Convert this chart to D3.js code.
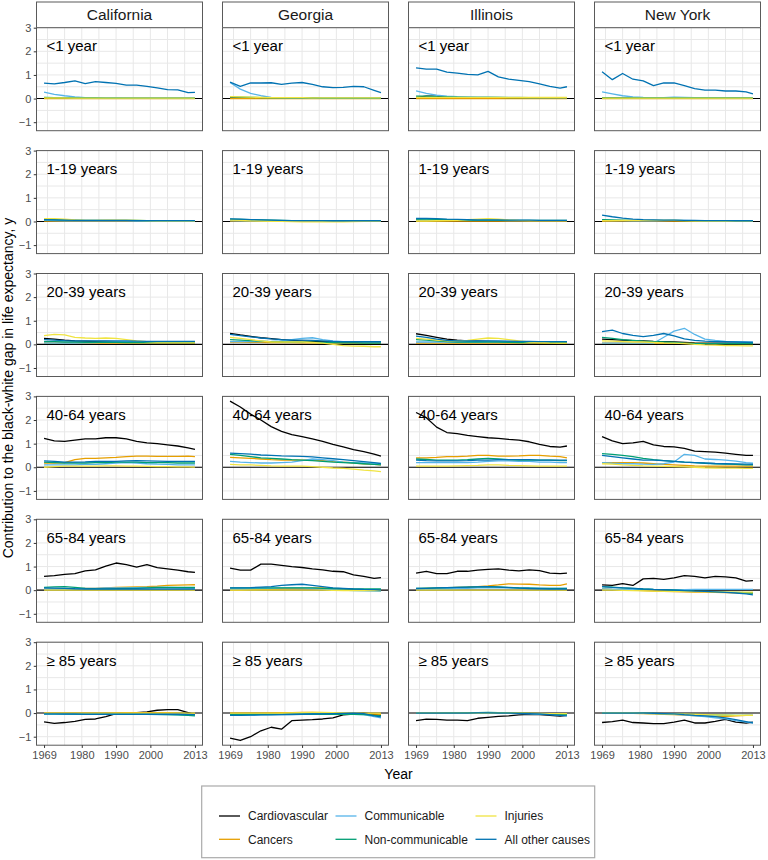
<!DOCTYPE html>
<html><head><meta charset="utf-8">
<script src="https://cdn.jsdelivr.net/npm/d3@7"></script>
<style>body{margin:0;background:#fff;} svg{display:block;font-family:"Liberation Sans",Arial,Helvetica,sans-serif;}</style>
</head><body><svg id="c" width="768" height="860"></svg>
<script>
const YEARS = [1969,1972,1975,1978,1981,1984,1987,1990,1993,1996,1999,2002,2005,2008,2011,2013];
const STATES = ["California","Georgia","Illinois","New York"];
const AGES = ["<1 year","1-19 years","20-39 years","40-64 years","65-84 years","\u2265 85 years"];
const CAUSES = ["Cardiovascular","Cancers","Communicable","Non-communicable","Injuries","All other causes"];
const COLORS = ["#000000","#E69F00","#56B4E9","#009E73","#F0E442","#0072B2"];
const X_TICKS = [1969,1980,1990,2000,2013];
const Y_TICKS = [-1,0,1,2,3];

// Each panel: arrays in CAUSES order (Cardiovascular, Cancers, Communicable, Non-communicable, Injuries, All other causes)
// ---- California ----
const CA_1 = [
 [.02,.02,.01,.01,.01,.01,.01,.01,.01,.01,.01,.01,.01,.01,.01,.01],
 [0,0,0,0,0,0,0,0,0,0,0,0,0,0,0,0],
 [.27,.18,.12,.07,.04,.03,.03,.04,.03,.02,.02,.02,.02,.02,.02,.02],
 [.05,.04,.04,.03,.03,.03,.02,.02,.02,.02,.02,.02,.02,.02,.02,.02],
 [.03,.03,.03,.02,.02,.02,.02,.02,.02,.02,.02,.02,.02,.02,.02,.02],
 [.65,.62,.68,.75,.63,.72,.68,.64,.57,.57,.52,.45,.38,.37,.25,.26]];
const CA_2 = [
 [.05,.05,.04,.04,.03,.03,.03,.03,.03,.03,.03,.03,.03,.03,.03,.03],
 [.02,.02,.02,.02,.02,.02,.02,.02,.02,.02,.01,.01,.01,.01,.01,.01],
 [.05,.04,.03,.03,.03,.03,.03,.03,.03,.02,.02,.02,.02,.02,.02,.02],
 [.08,.08,.07,.06,.05,.05,.05,.05,.05,.05,.04,.04,.04,.04,.04,.04],
 [.12,.12,.1,.07,.05,.05,.06,.06,.06,.05,.04,.03,.03,.03,.03,.03],
 [.08,.07,.06,.05,.05,.05,.05,.05,.05,.04,.04,.04,.04,.04,.04,.04]];
const CA_3 = [
 [.25,.22,.18,.15,.14,.13,.13,.12,.12,.11,.1,.1,.1,.1,.1,.1],
 [.05,.05,.05,.05,.05,.05,.05,.05,.05,.05,.05,.05,.05,.05,.05,.05],
 [.05,.05,.05,.05,.06,.08,.1,.12,.12,.12,.12,.12,.12,.12,.12,.12],
 [.12,.12,.1,.1,.09,.09,.09,.09,.08,.08,.08,.08,.08,.08,.08,.08],
 [.37,.42,.4,.3,.27,.25,.27,.25,.2,.15,.12,.1,.1,.1,.1,.1],
 [.2,.18,.16,.15,.15,.15,.15,.15,.15,.14,.13,.13,.13,.13,.13,.13]];
const CA_4 = [
 [1.22,1.12,1.1,1.15,1.2,1.2,1.25,1.25,1.2,1.1,1.03,1.0,.95,.9,.82,.76],
 [.18,.18,.2,.32,.38,.38,.4,.42,.45,.47,.47,.46,.46,.46,.47,.45],
 [.1,.1,.1,.1,.12,.12,.15,.18,.2,.18,.15,.13,.12,.1,.1,.1],
 [.22,.2,.18,.18,.18,.2,.2,.22,.22,.22,.2,.2,.2,.18,.18,.18],
 [0,.03,.05,.05,.05,.05,.06,.06,.05,.05,.04,.03,.03,.02,.02,.01],
 [.27,.25,.22,.22,.23,.25,.25,.25,.27,.28,.27,.26,.25,.25,.25,.25]];
const CA_5 = [
 [.58,.62,.67,.7,.82,.86,1.02,1.15,1.08,.98,1.08,.95,.9,.85,.78,.75],
 [.05,.05,.05,.06,.07,.08,.1,.12,.13,.14,.15,.17,.2,.21,.22,.23],
 [.05,.05,.05,.06,.07,.08,.1,.1,.1,.11,.12,.12,.12,.11,.1,.1],
 [.12,.14,.15,.12,.08,.06,.05,.06,.07,.08,.1,.12,.12,.12,.12,.12],
 [0,0,0,0,0,0,0,0,0,0,0,0,0,0,0,0],
 [.1,.09,.08,.06,.05,.05,.05,.05,.05,.05,.05,.05,.05,.05,.05,.05]];
const CA_6 = [
 [-.37,-.44,-.4,-.35,-.27,-.25,-.15,-.02,0,.02,.05,.12,.15,.15,.02,-.07],
 [0,0,0,0,0,0,0,.01,.02,.02,.02,.02,.02,0,-.02,-.03],
 [-.05,-.05,-.05,-.05,-.05,-.05,-.05,-.05,-.05,-.05,-.05,-.06,-.07,-.08,-.09,-.1],
 [-.02,-.02,-.02,-.03,-.03,-.03,-.03,-.03,-.04,-.04,-.05,-.05,-.06,-.08,-.1,-.12],
 [0,0,0,0,0,0,0,0,0,0,0,0,0,0,0,0],
 [-.03,-.03,-.04,-.04,-.05,-.05,-.05,-.05,-.05,-.05,-.05,-.05,-.05,-.05,-.06,-.07]];
// ---- Georgia ----
const GA_1 = [
 [.03,.03,.02,.02,.02,.02,.02,.02,.02,.01,.01,.01,.01,.01,.01,.01],
 [0,0,0,0,0,0,0,0,0,0,0,0,0,0,0,0],
 [.68,.4,.22,.12,.05,.04,.03,.03,.03,.02,.02,.02,.02,.02,.02,.02],
 [.07,.06,.05,.04,.03,.03,.03,.03,.03,.02,.02,.02,.02,.02,.02,.02],
 [.08,.07,.06,.05,.04,.04,.04,.04,.03,.03,.03,.03,.03,.03,.03,.03],
 [.7,.52,.66,.66,.67,.6,.65,.68,.6,.5,.46,.47,.52,.5,.35,.25]];
const GA_2 = [
 [.05,.04,.04,.03,.03,.03,.03,.02,.02,.02,.02,.02,.02,.02,.02,.02],
 [.02,.02,.02,.02,.02,.02,.02,.02,.02,.02,.02,.02,.02,.02,.02,.02],
 [.04,.03,.03,.03,.03,.03,.03,.03,.03,.02,.02,.02,.02,.02,.02,.02],
 [.1,.09,.08,.07,.06,.05,.04,.04,.04,.03,.03,.03,.03,.03,.03,.03],
 [.06,.05,.03,.02,.01,0,-.01,-.02,-.02,-.02,-.02,-.02,-.01,0,0,0],
 [.11,.1,.08,.07,.06,.05,.04,.04,.04,.04,.03,.03,.03,.03,.03,.03]];
const GA_3 = [
 [.47,.4,.34,.28,.24,.2,.17,.15,.13,.12,.1,.09,.08,.08,.07,.07],
 [.1,.1,.09,.09,.08,.07,.07,.06,.06,.05,.05,.05,.05,.05,.05,.05],
 [.12,.12,.12,.12,.13,.15,.2,.25,.28,.2,.15,.12,.12,.1,.1,.1],
 [.2,.18,.16,.14,.12,.11,.1,.1,.09,.08,.07,.06,.06,.05,.05,.05],
 [.3,.25,.2,.15,.1,.1,.1,.1,.08,.05,0,-.05,-.07,-.08,-.1,-.1],
 [.42,.37,.32,.27,.23,.2,.18,.18,.17,.15,.13,.12,.12,.12,.12,.12]];
const GA_4 = [
 [2.8,2.55,2.25,2.0,1.72,1.52,1.38,1.3,1.2,1.1,.97,.86,.75,.66,.56,.47],
 [.42,.4,.38,.35,.32,.3,.3,.3,.3,.28,.25,.22,.18,.15,.12,.1],
 [.25,.22,.2,.18,.18,.2,.22,.28,.35,.32,.28,.22,.2,.18,.16,.15],
 [.55,.5,.45,.4,.38,.35,.32,.3,.28,.25,.22,.2,.18,.15,.12,.1],
 [.12,.1,.1,.08,.06,.05,.05,.05,.03,0,-.03,-.05,-.08,-.12,-.15,-.18],
 [.6,.58,.56,.52,.5,.48,.47,.46,.44,.4,.36,.32,.28,.24,.2,.16]];
const GA_5 = [
 [.93,.85,.85,1.1,1.1,1.05,1.0,.96,.9,.86,.8,.78,.65,.58,.5,.53],
 [0,0,.02,.03,.05,.06,.07,.08,.1,.1,.07,.05,.03,.02,0,0],
 [.05,.05,.06,.07,.08,.1,.1,.1,.08,.05,.02,0,-.02,-.03,-.04,-.05],
 [.1,.1,.1,.1,.1,.1,.1,.1,.1,.08,.07,.06,.05,.05,.05,.05],
 [0,0,0,0,0,0,0,0,0,0,-.01,-.02,-.02,-.02,-.02,-.02],
 [.1,.1,.11,.13,.15,.2,.23,.25,.2,.15,.1,.08,.05,.03,.02,0]];
const GA_6 = [
 [-1.06,-1.16,-1.0,-.75,-.6,-.68,-.32,-.3,-.28,-.25,-.2,-.08,-.04,0,-.05,-.1],
 [0,0,0,0,.01,.02,.02,.03,.03,.02,0,-.01,-.02,-.03,-.04,-.05],
 [-.1,-.1,-.09,-.08,-.07,-.06,-.05,-.05,-.05,-.05,-.05,-.05,-.05,-.06,-.15,-.2],
 [-.05,-.05,-.05,-.05,-.05,-.05,-.05,-.05,-.05,-.05,-.05,-.05,-.05,-.06,-.1,-.12],
 [0,0,0,0,0,0,.01,.02,.03,.03,.02,.01,0,0,0,0],
 [-.1,-.1,-.09,-.08,-.08,-.07,-.06,-.05,-.04,-.03,-.02,-.01,0,-.02,-.12,-.16]];
// ---- Illinois ----
const IL_1 = [
 [.05,.1,.1,.05,.03,.03,.02,.02,.02,.02,.02,.02,.02,.02,.02,.02],
 [0,0,0,0,0,0,0,0,0,0,0,0,0,0,0,0],
 [.33,.22,.14,.1,.08,.07,.06,.06,.05,.05,.05,.04,.04,.04,.04,.04],
 [.1,.1,.08,.07,.06,.05,.05,.05,.05,.04,.04,.04,.04,.04,.04,.04],
 [.05,.05,.05,.05,.05,.05,.05,.05,.05,.05,.05,.05,.05,.05,.05,.05],
 [1.3,1.25,1.25,1.12,1.08,1.02,1.0,1.15,.92,.82,.77,.72,.62,.52,.44,.5]];
const IL_2 = [
 [.06,.05,.05,.04,.04,.04,.04,.04,.04,.03,.03,.03,.03,.03,.03,.03],
 [.02,.02,.02,.02,.02,.02,.02,.02,.02,.02,.02,.02,.02,.02,.02,.02],
 [.06,.06,.05,.05,.05,.05,.05,.05,.05,.04,.04,.04,.04,.04,.04,.04],
 [.1,.1,.09,.08,.07,.06,.06,.06,.06,.05,.05,.05,.05,.05,.05,.05],
 [.02,.02,.03,.04,.05,.08,.1,.12,.1,.07,.05,.04,.04,.04,.04,.04],
 [.13,.13,.12,.1,.09,.08,.07,.07,.07,.06,.06,.06,.05,.05,.05,.05]];
const IL_3 = [
 [.45,.38,.3,.22,.18,.15,.14,.13,.12,.11,.1,.1,.09,.08,.08,.08],
 [.05,.05,.05,.05,.05,.05,.05,.05,.05,.05,.05,.05,.04,.04,.04,.04],
 [.1,.1,.1,.1,.1,.1,.1,.12,.12,.1,.1,.1,.1,.1,.1,.1],
 [.2,.18,.15,.12,.1,.1,.1,.1,.1,.09,.08,.08,.07,.07,.07,.07],
 [.25,.22,.18,.15,.15,.17,.22,.27,.25,.2,.15,.1,.08,.06,.05,.05],
 [.35,.3,.22,.17,.15,.15,.15,.15,.15,.14,.13,.13,.12,.12,.12,.12]];
const IL_4 = [
 [2.32,2.1,1.7,1.47,1.42,1.35,1.3,1.25,1.22,1.18,1.15,1.08,.97,.88,.85,.9],
 [.4,.4,.42,.45,.45,.47,.5,.5,.47,.47,.48,.5,.5,.47,.45,.4],
 [.2,.2,.2,.2,.2,.2,.22,.25,.27,.27,.25,.25,.22,.22,.2,.2],
 [.35,.33,.3,.3,.3,.32,.35,.38,.35,.32,.3,.3,.3,.3,.28,.28],
 [.05,.05,.05,.05,.06,.07,.08,.1,.1,.08,.07,.06,.05,.05,.05,.05],
 [.3,.28,.27,.27,.27,.28,.3,.3,.32,.32,.32,.32,.3,.3,.3,.3]];
const IL_5 = [
 [.72,.8,.7,.7,.8,.8,.85,.88,.9,.85,.82,.86,.83,.72,.7,.72],
 [.05,.07,.08,.1,.12,.13,.15,.18,.22,.27,.26,.25,.22,.2,.2,.27],
 [.05,.05,.05,.06,.07,.08,.1,.1,.1,.1,.1,.1,.09,.08,.08,.08],
 [.08,.09,.1,.11,.12,.13,.14,.15,.14,.12,.1,.09,.08,.08,.08,.08],
 [0,0,0,0,0,0,0,0,0,0,0,0,0,0,0,0],
 [.07,.08,.1,.11,.12,.13,.14,.15,.13,.11,.09,.07,.06,.05,.05,.05]];
const IL_6 = [
 [-.32,-.26,-.27,-.3,-.3,-.32,-.22,-.18,-.14,-.12,-.08,-.05,-.07,-.1,-.13,-.1],
 [0,0,0,0,0,.01,.02,.02,.02,.01,0,-.01,-.02,-.03,-.04,-.05],
 [0,0,0,0,0,0,0,0,0,-.01,-.02,-.03,-.05,-.07,-.09,-.1],
 [0,0,0,.01,.01,.02,.02,.03,.02,.01,0,-.01,-.02,-.04,-.05,-.05],
 [0,0,0,0,0,0,0,0,0,0,0,-.01,-.01,-.02,-.02,-.02],
 [0,0,0,0,0,0,.01,.01,0,0,-.01,-.02,-.04,-.07,-.1,-.12]];
// ---- New York ----
const NY_1 = [
 [.02,.02,.02,.02,.02,.02,.02,.02,.02,.02,.02,.02,.02,.02,.02,.02],
 [0,0,0,0,0,0,0,0,0,0,0,0,0,0,0,0],
 [.28,.2,.12,.07,.05,.04,.04,.06,.05,.04,.04,.04,.03,.03,.03,.03],
 [.03,.03,.03,.03,.03,.03,.03,.03,.03,.03,.03,.03,.03,.03,.03,.03],
 [.02,.02,.02,.02,.02,.02,.02,.02,.02,.02,.02,.02,.02,.02,.02,.02],
 [1.14,.8,1.06,.82,.75,.55,.66,.66,.55,.42,.36,.36,.32,.32,.28,.2]];
const NY_2 = [
 [.05,.04,.04,.03,.03,.03,.03,.03,.02,.02,.02,.02,.02,.02,.02,.02],
 [.02,.02,.02,.02,.02,.02,.02,.02,.02,.02,.02,.02,.02,.02,.02,.02],
 [.05,.04,.04,.03,.03,.03,.04,.05,.05,.04,.03,.03,.02,.02,.02,.02],
 [.08,.07,.06,.05,.05,.05,.05,.05,.04,.04,.03,.03,.03,.03,.03,.03],
 [.03,.04,.05,.05,.05,.05,.05,.05,.04,.03,.02,.02,.02,.02,.02,.02],
 [.27,.2,.14,.1,.08,.07,.06,.06,.05,.05,.04,.04,.04,.03,.03,.03]];
const NY_3 = [
 [.22,.2,.18,.16,.15,.13,.12,.1,.08,.06,.05,.05,.05,.05,.05,.05],
 [.05,.05,.05,.05,.05,.05,.05,.05,.05,.04,.04,.03,.03,.03,.03,.03],
 [.05,.05,.05,.05,.05,.05,.3,.56,.68,.42,.22,.17,.13,.12,.1,.1],
 [.3,.25,.2,.17,.14,.12,.1,.08,.05,.03,.03,.03,.03,.03,.03,.03],
 [.15,.14,.12,.1,.1,.08,.06,.05,.03,0,-.02,-.03,-.05,-.05,-.06,-.06],
 [.54,.6,.46,.38,.33,.38,.46,.36,.23,.17,.14,.12,.11,.1,.09,.08]];
const NY_4 = [
 [1.3,1.12,1.0,1.03,1.1,.95,.88,.86,.8,.68,.66,.64,.6,.55,.5,.5],
 [.2,.2,.2,.2,.18,.15,.12,.1,.08,.06,.05,.05,.05,.05,.05,.05],
 [.2,.17,.15,.15,.13,.12,.15,.22,.55,.5,.35,.33,.3,.26,.2,.17],
 [.58,.55,.5,.45,.38,.32,.28,.25,.22,.2,.17,.15,.13,.12,.1,.1],
 [.15,.13,.1,.08,.06,.05,.04,.03,.02,0,-.02,-.03,-.04,-.04,-.05,-.05],
 [.5,.45,.4,.35,.3,.3,.28,.25,.22,.2,.18,.16,.15,.14,.13,.12]];
const NY_5 = [
 [.22,.2,.28,.2,.48,.5,.46,.52,.62,.58,.52,.58,.56,.52,.38,.4],
 [.05,.03,.02,0,-.02,-.04,-.05,-.06,-.07,-.08,-.08,-.09,-.1,-.11,-.12,-.12],
 [.05,.04,.03,.02,.02,.02,.02,.02,.02,.03,.03,.03,.03,.03,.03,.03],
 [.15,.13,.1,.08,.05,.03,.02,0,-.02,-.04,-.05,-.06,-.08,-.09,-.11,-.12],
 [0,0,-.01,-.02,-.03,-.04,-.05,-.05,-.05,-.06,-.06,-.07,-.07,-.08,-.08,-.08],
 [.15,.12,.1,.08,.05,.03,.02,0,-.02,-.04,-.05,-.07,-.09,-.12,-.16,-.2]];
const NY_6 = [
 [-.4,-.36,-.3,-.4,-.42,-.45,-.45,-.38,-.3,-.42,-.42,-.35,-.27,-.38,-.42,-.38],
 [0,0,0,-.01,-.02,-.03,-.05,-.07,-.09,-.11,-.13,-.15,-.14,-.12,-.1,-.1],
 [0,0,0,0,-.01,-.02,-.03,-.05,-.08,-.12,-.15,-.2,-.25,-.32,-.38,-.4],
 [0,0,0,0,0,-.01,-.02,-.03,-.05,-.06,-.07,-.08,-.09,-.1,-.1,-.1],
 [0,0,0,0,-.01,-.02,-.03,-.04,-.05,-.06,-.07,-.08,-.09,-.1,-.1,-.1],
 [0,0,0,0,0,-.01,-.02,-.03,-.07,-.1,-.12,-.15,-.2,-.28,-.36,-.42]];

const PANELS = {
  "California": [CA_1,CA_2,CA_3,CA_4,CA_5,CA_6],
  "Georgia":    [GA_1,GA_2,GA_3,GA_4,GA_5,GA_6],
  "Illinois":   [IL_1,IL_2,IL_3,IL_4,IL_5,IL_6],
  "New York":   [NY_1,NY_2,NY_3,NY_4,NY_5,NY_6]
};

// ---- layout ----
const PL = 36.5, PW = 166, CSTEP = 186;
const PT = 27.7, PH = 103, RSTEP = 122.9;
const STRIP_H = 25.7;
const FONT = '"Liberation Sans", Arial, Helvetica, sans-serif';

const svg = d3.select("#c");
svg.append("rect").attr("width",768).attr("height",860).attr("fill","#fff");

const x0 = d3.scaleLinear().domain([1969-2.2, 2013+2.2]).range([0, PW]);
const y0 = d3.scaleLinear().domain([-1.36, 3.0]).range([PH, 0]);
const line = d3.line().x((d,i)=>x0(YEARS[i])).y(d=>y0(d));

STATES.forEach((st, c) => {
  const gx = PL + c*CSTEP;
  // strip
  const sg = svg.append("g").attr("transform",`translate(${gx},${PT-STRIP_H})`);
  sg.append("rect").attr("width",PW).attr("height",STRIP_H).attr("fill","#fff")
    .attr("stroke","#5a5a5a").attr("stroke-width",1);
  sg.append("text").attr("x",PW/2).attr("y",STRIP_H/2).attr("dy","0.36em")
    .attr("text-anchor","middle").attr("font-size",15.5).attr("fill","#1a1a1a").text(st);

  AGES.forEach((age, r) => {
    const gy = PT + r*RSTEP;
    const g = svg.append("g").attr("transform",`translate(${gx},${gy})`);
    g.append("rect").attr("width",PW).attr("height",PH).attr("fill","#fff");
    // grid
    const gridX = d3.range(1970, 2011, 5);
    g.selectAll(".gx").data(gridX).enter().append("line")
      .attr("x1",d=>x0(d)).attr("x2",d=>x0(d)).attr("y1",0).attr("y2",PH)
      .attr("stroke","#e8e8e8").attr("stroke-width",1);
    const gridY = d3.range(-1, 3.01, 0.5);
    g.selectAll(".gy").data(gridY).enter().append("line")
      .attr("x1",0).attr("x2",PW).attr("y1",d=>y0(d)).attr("y2",d=>y0(d))
      .attr("stroke","#e8e8e8").attr("stroke-width",1);
    // zero line
    g.append("line").attr("x1",0).attr("x2",PW).attr("y1",y0(0)).attr("y2",y0(0))
      .attr("stroke","#000").attr("stroke-width",1.1);
    // series
    const data = PANELS[st][r];
    data.forEach((vals, k) => {
      g.append("path").attr("d", line(vals)).attr("fill","none")
        .attr("stroke", COLORS[k]).attr("stroke-width",1.3)
        .attr("stroke-linejoin","round").attr("stroke-linecap","butt");
    });
    // age label
    g.append("text").attr("x", x0(1970)-1).attr("y", y0(2))
      .attr("font-size",15).attr("fill","#000").text(age);
    // border
    g.append("rect").attr("width",PW).attr("height",PH).attr("fill","none")
      .attr("stroke","#5a5a5a").attr("stroke-width",1);
    // y axis on first column
    if (c === 0) {
      const ya = d3.axisLeft(y0).tickValues(Y_TICKS).tickSize(2.75).tickPadding(2.5).tickFormat(d3.format("d"));
      const ag = g.append("g").call(ya);
      ag.select(".domain").remove();
      ag.selectAll("line").attr("stroke","#333");
      ag.selectAll("text").attr("font-size",11).attr("fill","#4d4d4d").attr("font-family",FONT);
    }
    // x axis on last row
    if (r === AGES.length-1) {
      const xa = d3.axisBottom(x0).tickValues(X_TICKS).tickSize(2.75).tickPadding(3).tickFormat(d3.format("d"));
      const ag = g.append("g").attr("transform",`translate(0,${PH})`).call(xa);
      ag.select(".domain").remove();
      ag.selectAll("line").attr("stroke","#333");
      ag.selectAll("text").attr("font-size",11).attr("fill","#4d4d4d").attr("font-family",FONT);
    }
  });
});

// axis titles
const panelsRight = PL + 3*CSTEP + PW;
svg.append("text").attr("x",(PL+panelsRight)/2).attr("y",779)
  .attr("text-anchor","middle").attr("font-size",14).attr("fill","#000").text("Year");
svg.append("text").attr("transform","translate(13,388) rotate(-90)")
  .attr("text-anchor","middle").attr("font-size",14).attr("fill","#000")
  .text("Contribution to the black-white gap in life expectancy, y");

// legend
const LX = 201.7, LY = 786, LW = 393, LH = 71.7;
const lg = svg.append("g");
lg.append("rect").attr("x",LX).attr("y",LY).attr("width",LW).attr("height",LH)
  .attr("fill","#fff").attr("stroke","#aaaaaa").attr("stroke-width",1.2);
const colKeyX = [219, 335.5, 475.5];
const rowY = [816, 839.3];
CAUSES.forEach((name, i) => {
  const col = Math.floor(i/2), row = i%2;
  const kx = colKeyX[col], ky = rowY[row];
  lg.append("line").attr("x1",kx).attr("x2",kx+21).attr("y1",ky).attr("y2",ky)
    .attr("stroke",COLORS[i]).attr("stroke-width",1.3);
  lg.append("text").attr("x",kx+29).attr("y",ky).attr("dy","0.36em")
    .attr("font-size",12).attr("fill","#1a1a1a").text(name);
});
</script></body></html>
